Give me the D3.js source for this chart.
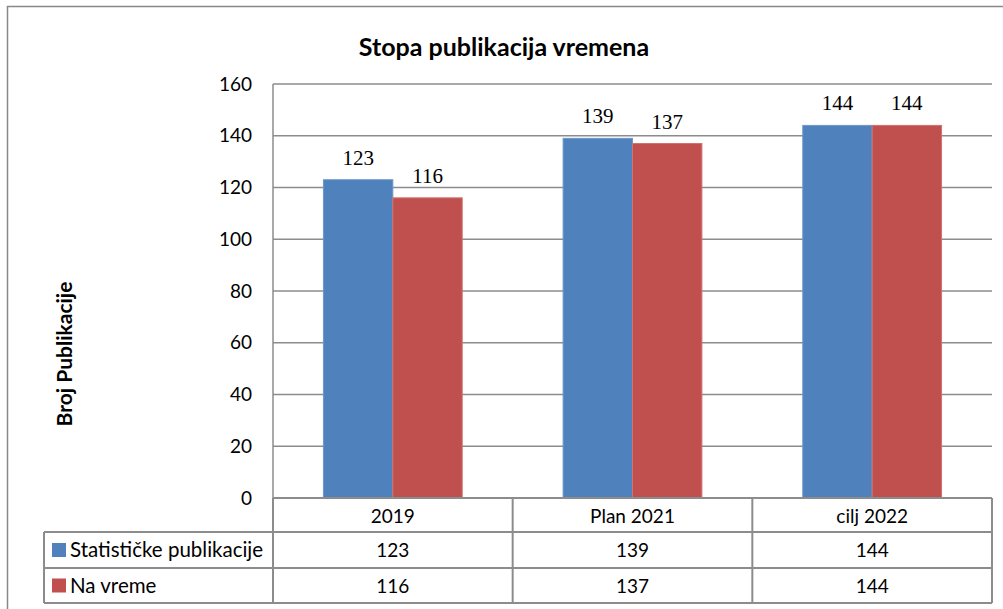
<!DOCTYPE html>
<html lang="sr">
<head>
<meta charset="UTF-8">
<title>Stopa publikacija vremena</title>
<script src="https://d3js.org/d3.v7.min.js"></script>
<style>
  body { margin: 0; background: #fff; }
  svg { display: block; }
</style>
</head>
<body>
<div id="chart"></div>
<script>
  // data
  const categories = ["2019", "Plan 2021", "cilj 2022"];
  const seriesNames = ["Statističke publikacije", "Na vreme"];
  const statisticke = [123, 139, 144];
  const naVreme = [116, 137, 144];
  const yTicks = [0, 20, 40, 60, 80, 100, 120, 140, 160];

  const seriesValues = [statisticke, naVreme];
  const colors = ["#4f81bd", "#c0504d"];
  const edges = ["#6d97cc", "#d1726f"];

  const width = 1003, height = 609;
  const plot = { left: 273, right: 992, top: 84, bottom: 498 };
  const rowH = [34, 36, 35]; // category row, then one row per series
  const legendLeft = 44;
  const sans = "Lato, 'Open Sans', sans-serif";
  const gridColor = "#8c8c8c";

  const svg = d3.select("#chart").append("svg")
    .attr("width", width)
    .attr("height", height);

  // outer frame (runs off the right/bottom edges like the reference)
  svg.append("rect")
    .attr("x", 7.5).attr("y", 6.5)
    .attr("width", 1010).attr("height", 620)
    .attr("fill", "none")
    .attr("stroke", "#888")
    .attr("stroke-width", 1.5);

  const x = d3.scaleBand()
    .domain(categories)
    .range([plot.left, plot.right]);

  const xSub = d3.scaleBand()
    .domain(seriesNames)
    .range([0, x.bandwidth()])
    .paddingOuter(0.727);

  const y = d3.scaleLinear()
    .domain([0, 160])
    .range([plot.bottom, plot.top]);

  // gridlines
  svg.append("g")
    .selectAll("line")
    .data(yTicks.filter(d => d > 0))
    .join("line")
    .attr("x1", plot.left).attr("x2", plot.right)
    .attr("y1", d => y(d)).attr("y2", d => y(d))
    .attr("stroke", gridColor)
    .attr("stroke-width", 1.5);

  // left axis line
  svg.append("line")
    .attr("x1", plot.left).attr("x2", plot.left)
    .attr("y1", plot.top).attr("y2", plot.bottom)
    .attr("stroke", gridColor)
    .attr("stroke-width", 1.5);

  // y tick labels
  const yAxis = svg.append("g")
    .attr("transform", `translate(${plot.left},0)`)
    .call(d3.axisLeft(y).tickValues(yTicks).tickSize(0).tickPadding(21));
  yAxis.select(".domain").remove();
  yAxis.selectAll("text")
    .style("font-family", sans)
    .style("font-size", "19px")
    .attr("fill", "#000");

  // bars
  seriesNames.forEach((name, si) => {
    const g = svg.append("g");
    g.selectAll("rect")
      .data(categories)
      .join("rect")
      .attr("x", d => x(d) + xSub(name))
      .attr("y", (d, i) => y(seriesValues[si][i]))
      .attr("width", xSub.bandwidth())
      .attr("height", (d, i) => y(0) - y(seriesValues[si][i]))
      .attr("fill", colors[si])
      .attr("stroke", edges[si])
      .attr("stroke-width", 1);

    g.selectAll("text")
      .data(categories)
      .join("text")
      .attr("x", d => x(d) + xSub(name) + xSub.bandwidth() / 2)
      .attr("y", (d, i) => y(seriesValues[si][i]) - 15)
      .attr("text-anchor", "middle")
      .style("font-family", "'Liberation Serif', serif")
      .style("font-size", "21px")
      .text((d, i) => seriesValues[si][i]);
  });

  // data table under the plot
  const tableTop = plot.bottom;
  const rowTops = [tableTop, tableTop + rowH[0], tableTop + rowH[0] + rowH[1]];
  const tableBottom = rowTops[2] + rowH[2];
  const tbl = svg.append("g")
    .attr("stroke", gridColor)
    .attr("stroke-width", 2)
    .attr("fill", "none");

  // horizontal lines
  tbl.append("line")
    .attr("x1", plot.left).attr("x2", plot.right)
    .attr("y1", rowTops[0]).attr("y2", rowTops[0]);
  [rowTops[1], rowTops[2], tableBottom].forEach(yy => {
    tbl.append("line")
      .attr("x1", legendLeft).attr("x2", plot.right)
      .attr("y1", yy).attr("y2", yy);
  });
  // vertical lines
  tbl.append("line")
    .attr("x1", legendLeft).attr("x2", legendLeft)
    .attr("y1", rowTops[1]).attr("y2", tableBottom);
  categories.forEach(c => {
    tbl.append("line")
      .attr("x1", x(c)).attr("x2", x(c))
      .attr("y1", rowTops[0]).attr("y2", tableBottom);
  });
  tbl.append("line")
    .attr("x1", plot.right).attr("x2", plot.right)
    .attr("y1", rowTops[0]).attr("y2", tableBottom);

  // category labels
  svg.append("g")
    .selectAll("text")
    .data(categories)
    .join("text")
    .attr("x", d => x(d) + x.bandwidth() / 2)
    .attr("y", rowTops[0] + 25)
    .attr("text-anchor", "middle")
    .style("font-family", sans)
    .style("font-size", "19px")
    .text(d => d);

  // series rows
  seriesNames.forEach((name, si) => {
    const top = rowTops[si + 1];
    const h = rowH[si + 1];
    svg.append("rect")
      .attr("x", 52).attr("y", top + h / 2 - 7)
      .attr("width", 14).attr("height", 14)
      .attr("fill", colors[si]);
    svg.append("text")
      .attr("x", 70).attr("y", top + h / 2 + 7)
      .style("font-family", sans)
      .style("font-size", "20.5px")
      .text(name);
    svg.append("g")
      .selectAll("text")
      .data(categories)
      .join("text")
      .attr("x", d => x(d) + x.bandwidth() / 2)
      .attr("y", top + h / 2 + 7)
      .attr("text-anchor", "middle")
      .style("font-family", sans)
      .style("font-size", "19px")
      .text((d, i) => seriesValues[si][i]);
  });

  // title
  svg.append("text")
    .attr("x", 504).attr("y", 56)
    .attr("text-anchor", "middle")
    .style("font-family", sans)
    .style("font-size", "25px")
    .style("font-weight", "700")
    .text("Stopa publikacija vremena");

  // y axis title
  svg.append("text")
    .attr("transform", "translate(72,354) rotate(-90)")
    .attr("text-anchor", "middle")
    .style("font-family", sans)
    .style("font-size", "21px")
    .style("font-weight", "700")
    .text("Broj Publikacije");
</script>
</body>
</html>
